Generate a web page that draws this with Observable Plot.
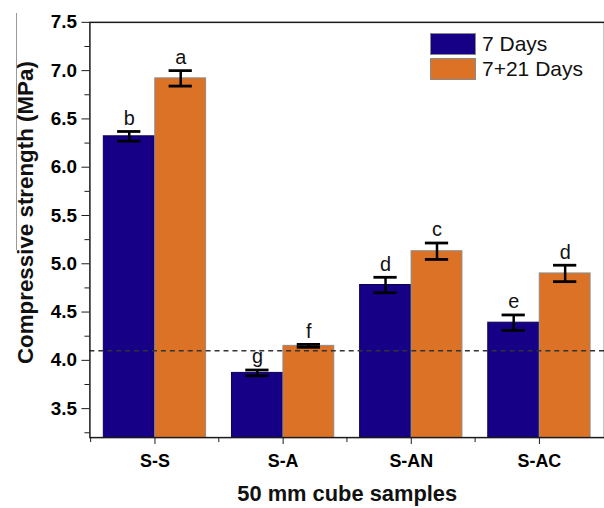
<!DOCTYPE html>
<html>
<head>
<meta charset="utf-8">
<script src="https://cdn.jsdelivr.net/npm/d3@7"></script>
<script src="https://cdn.jsdelivr.net/npm/@observablehq/plot@0.6"></script>
<style>
  html, body { margin: 0; padding: 0; background: #fff; overflow: hidden; width: 604px; height: 508px; }
  #wrap { position: relative; width: 604px; height: 508px; font-family: "Liberation Sans", Arial, sans-serif; }
  #edge { position: absolute; left: 16px; top: 13px; width: 1px; height: 237px; background: #9a9a9a; }
  .legend { position: absolute; left: 430px; top: 31px; font-size: 21px; color: #111; }
  .legend .row { display: flex; align-items: center; height: 25px; }
  .legend .sw { width: 46px; height: 22px; box-sizing: border-box; border: 1px solid #8a8a8a; margin-right: 6px; }
</style>
</head>
<body>
<div id="wrap"><div id="edge"></div></div>
<script>
const categories = ["S-S", "S-A", "S-AN", "S-AC"];
const seriesNames = ["7 Days", "7+21 Days"];
const mean7 = [6.32, 3.87, 4.78, 4.39];
const err7 = [0.05, 0.03, 0.08, 0.08];
const letters7 = ["b", "g", "d", "e"];
const mean28 = [6.92, 4.15, 5.13, 4.90];
const err28 = [0.08, 0.015, 0.085, 0.085];
const letters28 = ["a", "f", "c", "d"];
const yTicks = [3.5, 4.0, 4.5, 5.0, 5.5, 6.0, 6.5, 7.0, 7.5];
const yMinorTicks = [3.25, 3.75, 4.25, 4.75, 5.25, 5.75, 6.25, 6.75, 7.25];
const refLine = [4.1];
const yDomain = [3.2, 7.5];
const colors = ["#160086", "#db7225"];
const xTitle = "50 mm cube samples";
const yTitle = "Compressive strength (MPa)";

const rows7 = categories.map((c, i) => ({cat: c, mean: mean7[i], err: err7[i], letter: letters7[i]}));
const rows28 = categories.map((c, i) => ({cat: c, mean: mean28[i], err: err28[i], letter: letters28[i]}));

const W = 608, H = 508, mL = 90, mR = 0, mT = 22, mB = 68;
const pIn = 0.2, pOut = 0.1;
const step = (W - mL - mR) / (categories.length - pIn + 2 * pOut);
const bw = step * (1 - pIn);
const off = bw / 4;
const capW = 24;
const capInset = (bw - capW) / 2;
const font = "Liberation Sans, Arial, sans-serif";

function seriesMarks(rows, k) {
  const dx = k === 0 ? -off : off;
  return [
    Plot.barY(rows, {
      x: "cat", y: "mean", clip: true,
      insetLeft: k === 0 ? 0 : bw / 2, insetRight: k === 0 ? bw / 2 : 0,
      fill: colors[k], stroke: k === 0 ? "#0b0050" : "#8c8c8c", strokeWidth: 1
    }),
    Plot.ruleX(rows, {x: "cat", y1: d => d.mean - d.err, y2: d => d.mean + d.err, dx, stroke: "#000", strokeWidth: 2.5}),
    Plot.tickY(rows, {x: "cat", y: d => d.mean + d.err, dx, insetLeft: capInset, insetRight: capInset, stroke: "#000", strokeWidth: 2.8}),
    Plot.tickY(rows, {x: "cat", y: d => d.mean - d.err, dx, insetLeft: capInset, insetRight: capInset, stroke: "#000", strokeWidth: 2.8}),
    Plot.text(rows, {x: "cat", y: d => d.mean + d.err, dx, dy: -13, text: "letter", fontSize: 20, fill: "#111"})
  ];
}

const chart = Plot.plot({
  width: W, height: H,
  marginLeft: mL, marginRight: mR, marginTop: mT, marginBottom: mB,
  style: {fontFamily: font, background: "transparent", overflow: "visible"},
  x: {type: "band", domain: categories, paddingInner: pIn, paddingOuter: pOut, axis: null},
  y: {domain: yDomain, axis: null},
  marks: [
    ...seriesMarks(rows7, 0),
    ...seriesMarks(rows28, 1),
    Plot.ruleY(refLine, {stroke: "#333", strokeWidth: 1.5, strokeDasharray: "5,4"}),
    Plot.frame({stroke: "#1a1a1a", strokeWidth: 1.5}),
    Plot.axisY({ticks: yTicks, tickSize: 8, tickPadding: 5, tickFormat: d3.format(".1f"), fontSize: 19, fontWeight: "bold", label: null, stroke: "#1a1a1a"}),
    Plot.axisY({ticks: yMinorTicks, tickSize: 5, tickFormat: () => "", label: null, stroke: "#1a1a1a"}),
    Plot.axisX({tickSize: 7, tickPadding: 10, fontSize: 18, fontWeight: "bold", label: null, stroke: "#1a1a1a"}),
    Plot.axisX({tickSize: 5, tickFormat: () => "", dx: -step / 2, label: null, stroke: "#1a1a1a"}),
    Plot.text([yTitle], {text: d => d, frameAnchor: "left", textAnchor: "middle", lineAnchor: "middle", dx: -64, dy: -17.5, rotate: -90, fontSize: 22.5, fontWeight: "bold", fill: "#111"}),
    Plot.text([xTitle], {text: d => d, frameAnchor: "bottom", lineAnchor: "middle", dy: 57, fontSize: 22, fontWeight: "bold", fill: "#111"})
  ]
});
chart.style.position = "absolute";
chart.style.left = "0px";
chart.style.top = "0px";
const wrap = document.getElementById("wrap");
wrap.appendChild(chart);

const legend = document.createElement("div");
legend.className = "legend";
seriesNames.forEach((name, i) => {
  const row = document.createElement("div");
  row.className = "row";
  const sw = document.createElement("div");
  sw.className = "sw";
  sw.style.background = colors[i];
  const lab = document.createElement("span");
  lab.textContent = name;
  row.appendChild(sw);
  row.appendChild(lab);
  legend.appendChild(row);
});
wrap.appendChild(legend);
</script>
</body>
</html>
